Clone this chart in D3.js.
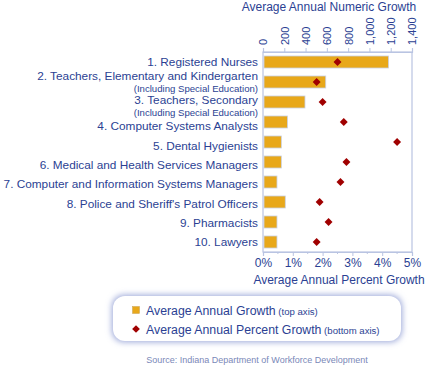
<!DOCTYPE html>
<html>
<head>
<meta charset="utf-8">
<script src="https://cdn.jsdelivr.net/npm/d3@7"></script>
<style>
  body { margin: 0; background: #fff; }
  svg { font-family: "Liberation Sans", Arial, sans-serif; }
</style>
</head>
<body>
<svg id="chart" width="427" height="366"></svg>
<script>
// 職業名稱與數值
const occupations = [
  "1. Registered Nurses",
  "2. Teachers, Elementary and Kindergarten",
  "3. Teachers, Secondary",
  "4. Computer Systems Analysts",
  "5. Dental Hygienists",
  "6. Medical and Health Services Managers",
  "7. Computer and Information Systems Managers",
  "8. Police and Sheriff's Patrol Officers",
  "9. Pharmacists",
  "10. Lawyers"
];
const subLabels = ["", "(Including Special Education)", "(Including Special Education)", "", "", "", "", "", "", ""];
const numericGrowth = [1170, 580, 385, 220, 163, 163, 122, 200, 122, 122];
const percentGrowth = [2.5, 1.8, 2.0, 2.71, 4.5, 2.8, 2.6, 1.9, 2.2, 1.8];
const topTicks = [0, 200, 400, 600, 800, 1000, 1200, 1400];
const bottomTicks = [0, 1, 2, 3, 4, 5];

const textColor = "#2b3f93";
const barColor = "#e8a81a";
const diamondColor = "#a00000";
const frameColor = "#b9c4e2";

const plot = { left: 263, right: 412, top: 52, bottom: 252 };
// 標籤相對列中心的垂直位移
const labelShift = [4, -2.5, 1.5, 7.5, 7.5, 6.5, 6, 5.5, 4.5, 4];

const svg = d3.select("#chart");

const xTop = d3.scaleLinear().domain([0, 1400]).range([plot.left, plot.right]);
const xBottom = d3.scaleLinear().domain([0, 5]).range([plot.left, plot.right]);
const y = d3.scaleBand().domain(occupations).range([plot.top, plot.bottom]);

// 外框
svg.append("rect")
  .attr("x", plot.left).attr("y", plot.top)
  .attr("width", plot.right - plot.left).attr("height", plot.bottom - plot.top)
  .attr("fill", "none").attr("stroke", frameColor).attr("stroke-width", 1.2);

// 上方軸
const topAxis = svg.append("g")
  .attr("transform", `translate(0,${plot.top})`)
  .call(d3.axisTop(xTop).tickValues(topTicks).tickSize(4).tickFormat(d3.format(",")));
topAxis.select(".domain").attr("stroke", frameColor).attr("stroke-width", 1.2);
topAxis.selectAll(".tick line").attr("stroke", frameColor);
topAxis.selectAll("text")
  .attr("fill", textColor)
  .style("font-size", "11px")
  .attr("transform", "rotate(-90)")
  .attr("x", 7).attr("y", 0).attr("dy", "0.35em")
  .style("text-anchor", "start");

svg.append("text")
  .attr("x", 329).attr("y", 11)
  .attr("text-anchor", "middle")
  .attr("fill", textColor)
  .style("font-size", "12px")
  .text("Average Annual Numeric Growth");

// 下方軸
const bottomAxis = svg.append("g")
  .attr("transform", `translate(0,${plot.bottom})`)
  .call(d3.axisBottom(xBottom).tickValues(bottomTicks).tickSize(4).tickFormat(d => d + "%"));
bottomAxis.select(".domain").attr("stroke", frameColor).attr("stroke-width", 1.2);
bottomAxis.selectAll(".tick line").attr("stroke", frameColor);
bottomAxis.selectAll("text")
  .attr("fill", textColor)
  .style("font-size", "12px")
  .attr("y", 6);

// 次要刻度
svg.append("g").selectAll("line")
  .data(d3.range(0.5, 5, 1))
  .join("line")
  .attr("x1", d => xBottom(d)).attr("x2", d => xBottom(d))
  .attr("y1", plot.bottom).attr("y2", plot.bottom + 2)
  .attr("stroke", frameColor);

svg.append("text")
  .attr("x", 339).attr("y", 284)
  .attr("text-anchor", "middle")
  .attr("fill", textColor)
  .style("font-size", "12px")
  .text("Average Annual Percent Growth");

// 長條
const barH = 12;
svg.append("g").selectAll("rect")
  .data(occupations)
  .join("rect")
  .attr("x", xTop(0) + 1)
  .attr("y", d => y(d) + y.bandwidth() / 2 - barH / 2)
  .attr("width", (d, i) => xTop(numericGrowth[i]) - xTop(0))
  .attr("height", barH)
  .attr("fill", barColor)
  .attr("stroke", "#c8d0e4")
  .attr("stroke-width", 0.8);

// 菱形
svg.append("g").selectAll("path")
  .data(occupations)
  .join("path")
  .attr("d", d3.symbol(d3.symbolDiamond2, 40)())
  .attr("transform", (d, i) => `translate(${xBottom(percentGrowth[i])},${y(d) + y.bandwidth() / 2})`)
  .attr("fill", diamondColor);

// 類別標籤
const labels = svg.append("g").selectAll("g")
  .data(occupations)
  .join("g")
  .attr("transform", d => `translate(258,${y(d) + y.bandwidth() / 2})`);

labels.append("text")
  .attr("text-anchor", "end")
  .attr("fill", textColor)
  .style("font-size", "11.8px")
  .attr("y", (d, i) => labelShift[i])
  .text(d => d);

labels.append("text")
  .attr("text-anchor", "end")
  .attr("fill", textColor)
  .style("font-size", "9.6px")
  .attr("y", (d, i) => labelShift[i] + 12.3)
  .text((d, i) => subLabels[i]);

// 圖例
const defs = svg.append("defs");
const blur = defs.append("filter").attr("id", "glow")
  .attr("x", "-10%").attr("y", "-30%").attr("width", "120%").attr("height", "160%");
blur.append("feGaussianBlur").attr("stdDeviation", 3);

svg.append("rect")
  .attr("x", 112).attr("y", 295).attr("width", 290).attr("height", 47).attr("rx", 12)
  .attr("fill", "#9aa6d8").attr("filter", "url(#glow)");
svg.append("rect")
  .attr("x", 113).attr("y", 296).attr("width", 288).attr("height", 45).attr("rx", 12)
  .attr("fill", "#fff");

const legendItems = [
  { main: "Average Annual Growth", note: " (top axis)", type: "bar" },
  { main: "Average Annual Percent Growth", note: " (bottom axis)", type: "diamond" }
];
const leg = svg.append("g").selectAll("g")
  .data(legendItems)
  .join("g")
  .attr("transform", (d, i) => `translate(136,${310 + i * 19})`);
leg.filter(d => d.type === "bar").append("rect")
  .attr("x", -3.5).attr("y", -3.5).attr("width", 7).attr("height", 7)
  .attr("fill", barColor).attr("stroke", "#c8a050").attr("stroke-width", 0.5);
leg.filter(d => d.type === "diamond").append("path")
  .attr("d", d3.symbol(d3.symbolDiamond2, 38)())
  .attr("fill", diamondColor);
const legText = leg.append("text")
  .attr("x", 10).attr("y", 4.5)
  .attr("fill", textColor)
  .style("font-size", "12.3px");
legText.append("tspan").text(d => d.main);
legText.append("tspan").style("font-size", "9.6px").text(d => d.note);

svg.append("text")
  .attr("x", 257).attr("y", 363)
  .attr("text-anchor", "middle")
  .attr("fill", "#7a88b8")
  .style("font-size", "9px")
  .text("Source:  Indiana Department of Workforce Development");
</script>
</body>
</html>
